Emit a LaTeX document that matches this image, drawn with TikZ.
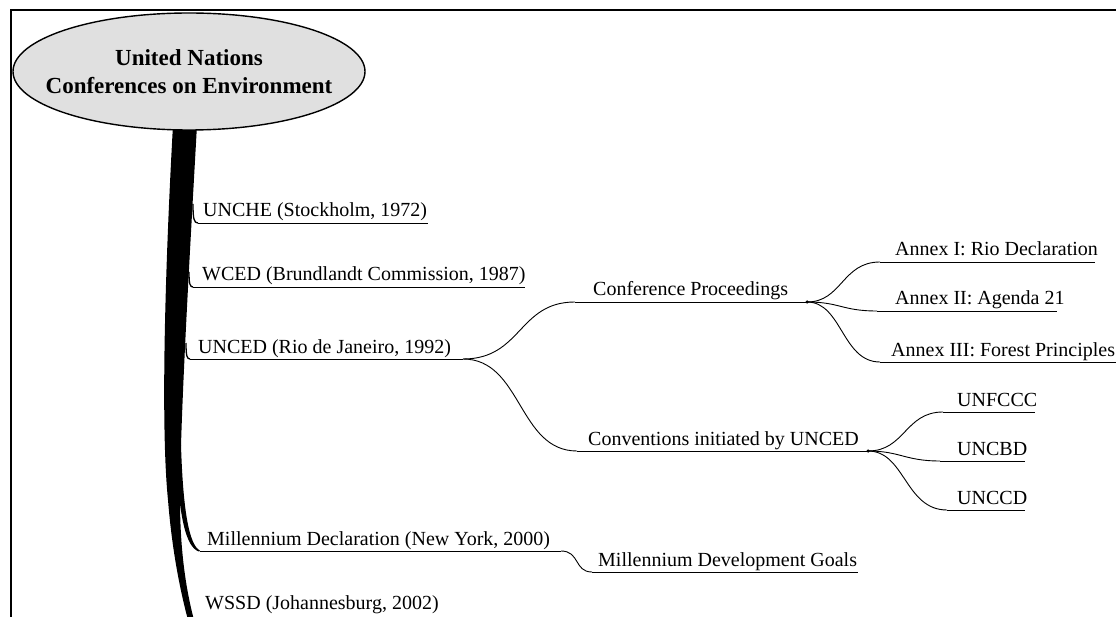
\documentclass[tikz,border=0pt]{standalone}
\usepackage{fontspec}
\setmainfont{Liberation Serif}
\usetikzlibrary{shapes.geometric}
\definecolor{ellfill}{RGB}{224,224,224}
\begin{document}
\begin{tikzpicture}[x=1pt,y=-1pt,
  topic/.style={font=\fontsize{20}{24}\selectfont, inner sep=0pt, anchor=base west},
  uline/.style={line width=0.9pt},
  branch/.style={line width=0.9pt},
  twig/.style={line width=1.3pt},
  knot/.style={circle, fill=black, inner sep=0pt, minimum size=3.5pt},
  bubble/.style={ellipse, draw=black, line width=1.4pt, fill=ellfill,
    minimum width=352pt, minimum height=117pt, inner sep=0pt},
  title/.style={align=center, inner sep=0pt, font=\bfseries\fontsize{23}{28}\selectfont}]
\useasboundingbox (0,0) rectangle (1116,617);
% frame
\draw[line width=2pt] (11,617) -- (11,10) -- (1116,10);

% trunk
\fill[black] (173,125) .. controls (166,250) and (160,420) .. (168,500)
  .. controls (172,550) and (180,590) .. (188,620) -- (194,620)
  .. controls (186,590) and (180,550) .. (180,500)
  .. controls (180,420) and (190,250) .. (197,125) -- cycle;
% millennium thick branch
\fill[black] (175,445) .. controls (179,520) and (186,547) .. (199,551.6)
  -- (200,550.6) .. controls (189,545) and (183,510) .. (181,445) -- cycle;

% title
\node[bubble] (rootshape) at (189,71.5) {};
\node[title] (root) at (rootshape.center) {United Nations\\Conferences on Environment};

% coordinates of underline ends
\coordinate (uncheS) at (198,223);   \coordinate (uncheE) at (428,223);
\coordinate (wcedS) at (193,287);    \coordinate (wcedE) at (525,287);
\coordinate (uncedS) at (190,359);   \coordinate (uncedE) at (463,359);
\coordinate (cpS) at (575,302);      \coordinate (cpE) at (807,302);
\coordinate (cvS) at (577,451);      \coordinate (cvE) at (868,451);
\coordinate (a1S) at (880,262);      \coordinate (a1E) at (1095,262);
\coordinate (a2S) at (877,311);      \coordinate (a2E) at (1057,311);
\coordinate (a3S) at (880,362);      \coordinate (a3E) at (1120,362);
\coordinate (u1S) at (943,412);      \coordinate (u1E) at (1035,412);
\coordinate (u2S) at (940,461);      \coordinate (u2E) at (1025,461);
\coordinate (u3S) at (947,510);      \coordinate (u3E) at (1025,510);
\coordinate (mdS) at (200,551);      \coordinate (mdE) at (561,551);
\coordinate (mgS) at (592,572);      \coordinate (mgE) at (858,572);
\coordinate (t1) at (193,204);
\coordinate (t2) at (189,272);
\coordinate (t3) at (186,343);

% labels
\node[topic] (unche) at (203,217) {UNCHE (Stockholm, 1972)};
\node[topic] (wced) at (202,281) {WCED (Brundlandt Commission, 1987)};
\node[topic] (unced) at (198,353) {UNCED (Rio de Janeiro, 1992)};
\node[topic] (cp) at (593,296) {Conference Proceedings};
\node[topic] (cv) at (588,445) {Conventions initiated by UNCED};
\node[topic] (a1) at (895,256) {Annex I: Rio Declaration};
\node[topic] (a2) at (895,305) {Annex II: Agenda 21};
\node[topic] (a3) at (891,356) {Annex III: Forest Principles};
\node[topic] (u1) at (957,406) {UNFCCC};
\node[topic] (u2) at (957,455) {UNCBD};
\node[topic] (u3) at (957,504) {UNCCD};
\node[topic] (md) at (207,545) {Millennium Declaration (New York, 2000)};
\node[topic] (mg) at (598,566) {Millennium Development Goals};
\node[topic] (ws) at (205,609) {WSSD (Johannesburg, 2002)};

% underlines
\foreach \n in {unche,wced,unced,cp,cv,a1,a2,a3,u1,u2,u3,md,mg}
  \draw[uline] (\n S) -- (\n E);

% twigs from trunk
\draw[twig] (t1) .. controls (193,219) and (194,223) .. (uncheS);
\draw[twig] (t2) .. controls (189,284) and (190,287) .. (wcedS);
\draw[twig] (t3) .. controls (186,356) and (187,359) .. (uncedS);

% branches
\draw[branch] (uncedE) .. controls (522,359) and (518,302) .. (cpS);
\draw[branch] (uncedE) .. controls (522,359) and (518,451) .. (cvS);
\draw[branch] (cpE) .. controls (842,302) and (842,262) .. (a1S);
\draw[branch] (cpE) .. controls (840,302) and (842,311) .. (a2S);
\draw[branch] (cpE) .. controls (842,302) and (842,362) .. (a3S);
\draw[branch] (cvE) .. controls (905,451) and (905,412) .. (u1S);
\draw[branch] (cvE) .. controls (900,451) and (905,461) .. (u2S);
\draw[branch] (cvE) .. controls (905,451) and (905,510) .. (u3S);
\draw[branch] (mdE) .. controls (580,551) and (574,572) .. (mgS);

% knots
\node[knot] (k1) at (cpE) {};
\node[knot] (k2) at (cvE) {};
\end{tikzpicture}
\end{document}
